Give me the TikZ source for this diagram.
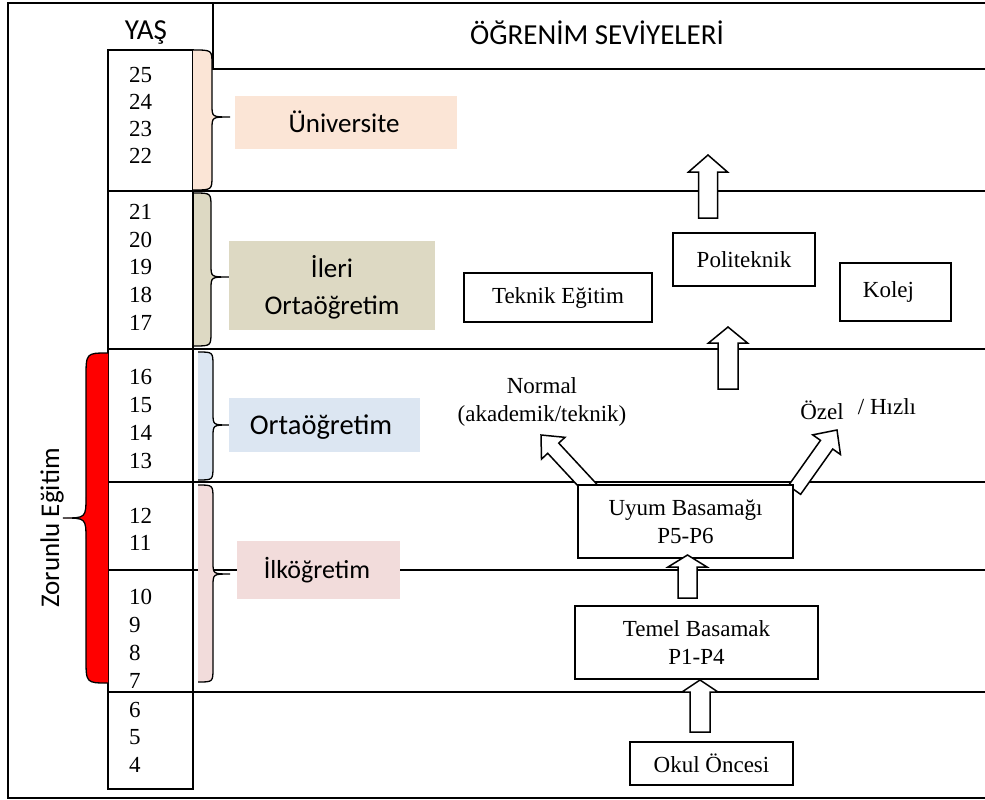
\documentclass[tikz,border=0pt]{standalone}
\usepackage{fontspec}
\setmainfont{Liberation Serif}
\newfontfamily\calfont{Carlito}
\usetikzlibrary{calc}
\definecolor{cuni}{HTML}{FBE5D6}
\definecolor{cileri}{HTML}{DDD9C3}
\definecolor{corta}{HTML}{DCE6F2}
\definecolor{cilk}{HTML}{F2DCDB}
\definecolor{cred}{HTML}{FF0000}
% #1 colour, #2 x end, #3 x arm, #4 x tip, #5 y top, #6 y mid, #7 y bottom, #8 end radius, #9 tip radius
\newcommand{\brc}[9]{%
 \fill[#1] (#2,#5) .. controls (#3,#5) .. (#3,{#5+#8}) -- (#3,{#6-#9}) .. controls (#3,#6) .. (#4,#6) .. controls (#3,#6) .. (#3,{#6+#9}) -- (#3,{#7-#8}) .. controls (#3,#7) .. (#2,#7) -- cycle;
 \draw[braceline] (#2,#5) .. controls (#3,#5) .. (#3,{#5+#8}) -- (#3,{#6-#9}) .. controls (#3,#6) .. (#4,#6) .. controls (#3,#6) .. (#3,{#6+#9}) -- (#3,{#7-#8}) .. controls (#3,#7) .. (#2,#7);}
% #1 base, #2 tip, #3 shaft half width, #4 head half width, #5 head length
\newcommand{\blockarrow}[5]{%
 \coordinate (hb) at ($(#2)!#5!(#1)$);
 \draw[barrow] ($(#1)!#3!90:(#2)$) -- ($(hb)!#3!90:(#2)$) -- ($(hb)!#4!90:(#2)$) -- (#2) -- ($(hb)!#4!-90:(#2)$) -- ($(hb)!#3!-90:(#2)$) -- ($(#1)!#3!-90:(#2)$) -- cycle;}
\begin{document}
\begin{tikzpicture}[x=1pt,y=-1pt,
  frameline/.style={line width=2.8pt},
  rowline/.style={line width=1.6pt},
  colline/.style={line width=1.6pt},
  braceline/.style={line width=1.3pt},
  barrow/.style={draw, fill=white, line width=1.5pt, line join=miter},
  hdr/.style={font=\calfont\fontsize{29}{34}\selectfont, inner sep=0pt},
  lbl/.style={font=\calfont\fontsize{27}{37}\selectfont, inner sep=0pt, align=center},
  lbox/.style={inner sep=0pt, draw=none},
  age/.style={font=\fontsize{23}{28}\selectfont, inner sep=0pt, anchor=west},
  sbox/.style={draw, line width=1.6pt, fill=white, inner sep=0pt, align=center, font=\fontsize{23}{28}\selectfont},
  stxt/.style={font=\fontsize{23}{28}\selectfont, inner sep=0pt, align=center}]
\useasboundingbox (0,0) rectangle (985,800);
% outer frame
\draw[frameline] (985,3) -- (8,3) -- (8,798) -- (985,798);
\draw[frameline] (213,3) -- (213,69) -- (985,69);
% row lines
\foreach \yy in {191,349,482,570,692} \draw[rowline] (108,\yy) -- (985,\yy);
% age column
\draw[colline] (108,50) rectangle (193,789);
% headers
\node[hdr] (yas) at (146,33) {YAŞ};
\node[hdr] (ogr) at (597,33) {ÖĞRENİM SEVİYELERİ};
% braces
\brc{cuni}{193}{212}{230}{50}{117}{190}{14}{12}
\brc{cileri}{194}{211}{229}{193}{277}{346}{14}{12}
\brc{corta}{198}{213}{229}{352}{425}{480}{14}{12}
\brc{cilk}{198}{213}{230}{485}{574}{682}{14}{12}
\brc{cred}{108}{86}{63}{353}{518}{683}{25}{22}
\node[hdr, font=\calfont\fontsize{27}{32}\selectfont, rotate=90] (zor) at (52,528) {Zorunlu Eğitim};
% ages
\foreach \a/\yy in {25/75,24/102,23/129,22/156,21/212,20/240,19/267,18/295,17/323,16/377,15/405,14/433,13/461,12/516,11/543,10/597,9/625,8/653,7/681,6/710,5/737,4/765}
  \node[age] (age\a) at (129,\yy) {\a};
% level boxes
\node[lbox, fill=cuni, minimum width=222pt, minimum height=53pt] (unibox) at (345.5,122.5) {};
\node[lbl] (uni) at (344,122) {Üniversite};
\node[lbox, fill=cileri, minimum width=206pt, minimum height=89pt] (ileribox) at (332,285.5) {};
\node[lbl] (ileri) at (332,287) {İleri\\Ortaöğretim};
\node[lbox, fill=corta, minimum width=191pt, minimum height=54pt] (ortabox) at (324.5,425) {};
\node[lbl, font=\calfont\fontsize{28.5}{34}\selectfont] (orta) at (321,427) {Ortaöğretim};
\node[lbox, fill=cilk, minimum width=163pt, minimum height=58pt] (ilkbox) at (318.5,570) {};
\node[lbl, font=\calfont\fontsize{26}{32}\selectfont] (ilk) at (317,570) {İlköğretim};
% arrows (drawn before boxes they touch)
\coordinate (a1b) at (708,218); \coordinate (a1t) at (708,155);
\coordinate (a2b) at (728,389); \coordinate (a2t) at (728,327);
\coordinate (a3b) at (687.5,598); \coordinate (a3t) at (687.5,555);
\coordinate (a4b) at (700,732); \coordinate (a4t) at (700,680);
\coordinate (a5b) at (592,490); \coordinate (a5t) at (541,435);
\coordinate (a6b) at (794.5,490); \coordinate (a6t) at (837,430);
\blockarrow{a1b}{a1t}{9.5pt}{19.5pt}{17pt}
\blockarrow{a2b}{a2t}{10pt}{19.5pt}{16pt}
\blockarrow{a5b}{a5t}{7.5pt}{16pt}{18pt}
\blockarrow{a6b}{a6t}{7.5pt}{17pt}{18pt}
% right-hand boxes
\node[sbox, minimum width=142pt, minimum height=53pt] (poli) at (744,259.5) {Politeknik};
\node[sbox, minimum width=188pt, minimum height=49pt] (teknik) at (558,297.5) {Teknik Eğitim};
\node[sbox, minimum width=111pt, minimum height=58pt] (kolej) at (895.5,292) {Kolej\hspace{14pt}};
\node[sbox, minimum width=215pt, minimum height=73pt] (uyum) at (685.5,521.5) {Uyum Basamağı\\P5-P6};
\node[sbox, minimum width=243pt, minimum height=73pt] (temel) at (696.5,642.5) {Temel Basamak\\P1-P4};
\node[sbox, minimum width=163pt, minimum height=43pt] (okul) at (711.5,763.5) {Okul Öncesi};
\blockarrow{a3b}{a3t}{9.5pt}{19.5pt}{12pt}
\blockarrow{a4b}{a4t}{10pt}{18pt}{12pt}
% free texts
\node[stxt] (normal) at (542,402) {Normal\\(akademik/teknik)};
\node[stxt] (ozel) at (822,410) {Özel};
\node[stxt] (hizli) at (887,407) {/ Hızlı};
\end{tikzpicture}
\end{document}
